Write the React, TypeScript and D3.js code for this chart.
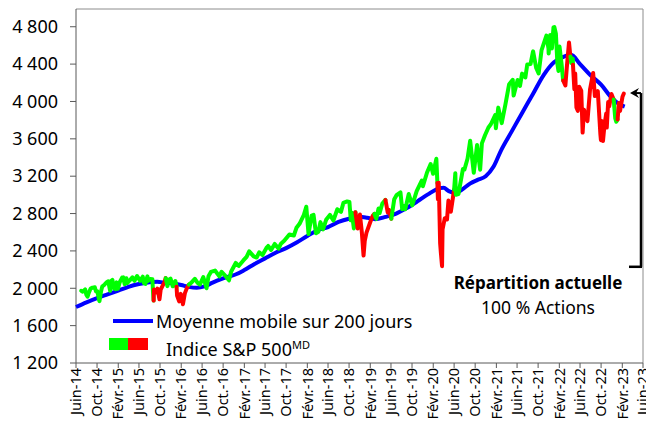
import * as d3 from 'd3';

// S&P 500 close (approx.)
const spxPoints: [string, number][] = [
  ['2014-07-01', 1973], ['2014-07-10', 1964], ['2014-07-24', 1988], ['2014-07-31', 1931],
  ['2014-08-07', 1910], ['2014-08-15', 1955], ['2014-08-25', 1997], ['2014-09-05', 2007],
  ['2014-09-18', 2011], ['2014-09-25', 1966], ['2014-10-03', 1967], ['2014-10-13', 1874],
  ['2014-10-15', 1862], ['2014-10-24', 1964], ['2014-10-31', 2018], ['2014-11-13', 2039],
  ['2014-11-28', 2068], ['2014-12-05', 2075], ['2014-12-16', 1972], ['2014-12-22', 2078],
  ['2014-12-29', 2090], ['2015-01-06', 2003], ['2015-01-15', 1992], ['2015-01-22', 2063],
  ['2015-01-30', 1995], ['2015-02-10', 2068], ['2015-02-24', 2115], ['2015-03-02', 2117],
  ['2015-03-10', 2044], ['2015-03-20', 2108], ['2015-03-26', 2056], ['2015-04-06', 2080],
  ['2015-04-24', 2117], ['2015-05-06', 2080], ['2015-05-21', 2131], ['2015-06-08', 2079],
  ['2015-06-23', 2124], ['2015-06-29', 2058], ['2015-07-08', 2046], ['2015-07-20', 2128],
  ['2015-07-24', 2079], ['2015-08-05', 2100], ['2015-08-18', 2096], ['2015-08-21', 1971],
  ['2015-08-25', 1868], ['2015-08-27', 1988], ['2015-09-03', 1951], ['2015-09-16', 1996],
  ['2015-09-28', 1882], ['2015-10-05', 1987], ['2015-10-15', 2023], ['2015-10-27', 2066],
  ['2015-11-03', 2109], ['2015-11-13', 2023], ['2015-11-20', 2089], ['2015-12-01', 2103],
  ['2015-12-14', 2021], ['2015-12-29', 2078], ['2016-01-05', 2016], ['2016-01-08', 1922],
  ['2016-01-20', 1859], ['2016-01-29', 1940], ['2016-02-11', 1829], ['2016-02-22', 1945],
  ['2016-03-04', 1999], ['2016-03-17', 2040], ['2016-03-31', 2060], ['2016-04-20', 2102],
  ['2016-05-06', 2057], ['2016-05-19', 2040], ['2016-06-08', 2119], ['2016-06-27', 2000],
  ['2016-07-08', 2129], ['2016-07-22', 2175], ['2016-08-15', 2190], ['2016-09-09', 2128],
  ['2016-09-22', 2177], ['2016-10-14', 2132], ['2016-11-04', 2085], ['2016-11-16', 2177],
  ['2016-12-13', 2271], ['2016-12-30', 2239], ['2017-01-26', 2298], ['2017-02-14', 2337],
  ['2017-03-01', 2395], ['2017-03-27', 2341], ['2017-04-13', 2329], ['2017-04-28', 2384],
  ['2017-05-17', 2357], ['2017-06-09', 2432], ['2017-06-19', 2453], ['2017-07-06', 2410],
  ['2017-07-27', 2475], ['2017-08-18', 2425], ['2017-09-01', 2477], ['2017-09-20', 2508],
  ['2017-10-20', 2575], ['2017-11-15', 2565], ['2017-11-30', 2647], ['2017-12-18', 2690],
  ['2018-01-12', 2786], ['2018-01-26', 2873], ['2018-02-08', 2581], ['2018-02-26', 2779],
  ['2018-03-09', 2786], ['2018-03-23', 2588], ['2018-04-06', 2604], ['2018-04-18', 2708],
  ['2018-05-03', 2630], ['2018-05-21', 2733], ['2018-06-12', 2786], ['2018-07-02', 2726],
  ['2018-07-25', 2846], ['2018-08-15', 2818], ['2018-08-29', 2914], ['2018-09-20', 2930],
  ['2018-10-03', 2925], ['2018-10-11', 2728], ['2018-10-17', 2809], ['2018-10-29', 2641],
  ['2018-11-07', 2814], ['2018-11-20', 2641], ['2018-12-03', 2790], ['2018-12-14', 2600],
  ['2018-12-24', 2351], ['2018-12-31', 2507], ['2019-01-10', 2596], ['2019-01-31', 2704],
  ['2019-02-15', 2775], ['2019-02-25', 2796], ['2019-03-08', 2743], ['2019-03-21', 2855],
  ['2019-03-27', 2805], ['2019-04-12', 2907], ['2019-04-30', 2946], ['2019-05-13', 2812],
  ['2019-05-20', 2840], ['2019-06-03', 2744], ['2019-06-20', 2954], ['2019-07-03', 2996],
  ['2019-07-26', 3026], ['2019-08-05', 2845], ['2019-08-12', 2883], ['2019-08-23', 2847],
  ['2019-09-12', 3009], ['2019-10-02', 2888], ['2019-10-28', 3039], ['2019-11-27', 3154],
  ['2019-12-03', 3093], ['2019-12-27', 3240], ['2020-01-17', 3330], ['2020-01-31', 3226],
  ['2020-02-19', 3386], ['2020-02-25', 3128], ['2020-02-28', 2954], ['2020-03-04', 3130],
  ['2020-03-12', 2481], ['2020-03-16', 2386], ['2020-03-23', 2237], ['2020-03-26', 2630],
  ['2020-04-08', 2750], ['2020-04-21', 2737], ['2020-04-29', 2939], ['2020-05-13', 2820],
  ['2020-06-01', 3056], ['2020-06-08', 3232], ['2020-06-11', 3002], ['2020-06-26', 3009],
  ['2020-07-22', 3276], ['2020-07-31', 3271], ['2020-08-18', 3390], ['2020-09-02', 3580],
  ['2020-09-23', 3237], ['2020-10-12', 3535], ['2020-10-30', 3270], ['2020-11-09', 3551],
  ['2020-11-27', 3638], ['2020-12-17', 3722], ['2020-12-31', 3756], ['2021-01-25', 3855],
  ['2021-01-29', 3714], ['2021-02-12', 3934], ['2021-03-04', 3768], ['2021-03-26', 3975],
  ['2021-04-16', 4185], ['2021-05-07', 4232], ['2021-05-12', 4063], ['2021-06-04', 4230],
  ['2021-06-18', 4166], ['2021-06-30', 4298], ['2021-07-19', 4258], ['2021-07-30', 4395],
  ['2021-08-18', 4400], ['2021-08-31', 4523], ['2021-09-02', 4537], ['2021-09-20', 4358],
  ['2021-10-04', 4300], ['2021-10-21', 4550], ['2021-11-18', 4705], ['2021-11-30', 4567],
  ['2021-12-01', 4513], ['2021-12-10', 4712], ['2021-12-20', 4568], ['2021-12-29', 4793],
  ['2022-01-03', 4797], ['2022-01-12', 4726], ['2022-01-21', 4398], ['2022-01-27', 4327],
  ['2022-02-02', 4589], ['2022-02-14', 4401], ['2022-02-23', 4225], ['2022-03-08', 4171],
  ['2022-03-16', 4358], ['2022-03-29', 4632], ['2022-04-06', 4481], ['2022-04-11', 4413],
  ['2022-04-20', 4459], ['2022-04-21', 4394], ['2022-04-29', 4132], ['2022-05-04', 4300],
  ['2022-05-11', 3935], ['2022-05-19', 3900], ['2022-05-27', 4158], ['2022-06-08', 4116],
  ['2022-06-16', 3667], ['2022-06-24', 3912], ['2022-07-05', 3831], ['2022-07-14', 3790],
  ['2022-07-29', 4130], ['2022-08-16', 4305], ['2022-08-26', 4058], ['2022-09-12', 4110],
  ['2022-09-27', 3647], ['2022-09-30', 3586], ['2022-10-04', 3791], ['2022-10-12', 3577],
  ['2022-10-21', 3753], ['2022-10-31', 3872], ['2022-11-03', 3720], ['2022-11-11', 3993],
  ['2022-11-17', 3947], ['2022-11-30', 4080], ['2022-12-13', 4020], ['2022-12-22', 3822],
  ['2022-12-28', 3783], ['2023-01-05', 3808], ['2023-01-12', 3983], ['2023-01-19', 3899],
  ['2023-02-02', 4050], ['2023-02-10', 4085],
];

// 200-day moving average (approx.)
const maPoints: [string, number][] = [
  ['2014-06-01', 1800], ['2014-08-01', 1850], ['2014-10-01', 1895], ['2014-12-01', 1935],
  ['2015-02-01', 1975], ['2015-04-01', 2015], ['2015-06-01', 2045], ['2015-08-01', 2065],
  ['2015-09-15', 2070], ['2015-11-01', 2058], ['2015-12-15', 2052], ['2016-02-01', 2035],
  ['2016-03-15', 2015], ['2016-05-01', 2005], ['2016-06-15', 2020], ['2016-08-01', 2060],
  ['2016-09-15', 2095], ['2016-11-01', 2125], ['2016-12-15', 2150], ['2017-02-01', 2195],
  ['2017-04-01', 2260], ['2017-06-01', 2320], ['2017-08-01', 2380], ['2017-10-01', 2430],
  ['2017-12-01', 2490], ['2018-02-01', 2560], ['2018-04-01', 2620], ['2018-06-01', 2655],
  ['2018-08-01', 2710], ['2018-10-01', 2745], ['2018-12-01', 2765], ['2019-01-15', 2755],
  ['2019-03-01', 2740], ['2019-05-01', 2765], ['2019-07-01', 2800], ['2019-09-01', 2860],
  ['2019-11-01', 2930], ['2020-01-01', 3005], ['2020-02-20', 3060], ['2020-04-01', 3075],
  ['2020-05-01', 3040], ['2020-06-10', 3020], ['2020-07-15', 3055], ['2020-09-01', 3120],
  ['2020-10-15', 3160], ['2020-12-01', 3200], ['2021-01-15', 3300], ['2021-03-01', 3480],
  ['2021-05-01', 3680], ['2021-07-01', 3880], ['2021-09-01', 4080], ['2021-11-01', 4280],
  ['2022-01-01', 4420], ['2022-02-15', 4470], ['2022-04-10', 4500], ['2022-06-01', 4400],
  ['2022-08-01', 4280], ['2022-10-01', 4180], ['2022-12-01', 4040], ['2023-01-15', 3970],
  ['2023-02-15', 3945],
];

// periods shown in red (signal below)
const redPeriods: [string, string][] = [
  ['2015-08-26', '2015-11-03'],
  ['2016-01-04', '2016-03-22'],
  ['2018-11-05', '2019-02-28'],
  ['2019-05-03', '2019-06-07'],
  ['2020-02-25', '2020-06-02'],
  ['2022-02-22', '2022-04-08'],
  ['2022-04-22', '2022-12-13'],
  ['2023-01-03', '2023-02-28'],
];

const yTicks = [1200, 1600, 2000, 2400, 2800, 3200, 3600, 4000, 4400, 4800];
const monthLabels: Record<number, string> = { 1: 'Févr.', 5: 'Juin', 9: 'Oct.' };

const W = 646;
const H = 423;
const FONT = '"Noto Sans", sans-serif';

const parse = d3.timeParse('%Y-%m-%d');

export default function App() {
  const left = 76;
  const right = 643;
  const top = 9;
  const bottom = 363;

  const x = d3
    .scaleTime()
    .domain([parse('2014-06-01')!, parse('2023-06-01')!])
    .range([left, right]);
  const y = d3.scaleLinear().domain([1200, 4990]).range([bottom, top]);

  const spx = spxPoints.map(([d, v]) => ({ date: parse(d)!, value: v }));
  const ma = maPoints.map(([d, v]) => ({ date: parse(d)!, value: v }));
  const periods = redPeriods.map(([a, b]) => [parse(a)!, parse(b)!]);

  const isRed = (t: number) => periods.some(([a, b]) => t >= +a && t <= +b);

  // split the index into colour runs
  const segments: { red: boolean; pts: typeof spx }[] = [];
  for (let i = 1; i < spx.length; i++) {
    const mid = (+spx[i - 1].date + +spx[i].date) / 2;
    const red = isRed(mid);
    const last = segments[segments.length - 1];
    if (last && last.red === red) {
      last.pts.push(spx[i]);
    } else {
      segments.push({ red, pts: [spx[i - 1], spx[i]] });
    }
  }

  const line = d3
    .line<{ date: Date; value: number }>()
    .x((d) => x(d.date))
    .y((d) => y(d.value));

  const maLine = d3
    .line<{ date: Date; value: number }>()
    .x((d) => x(d.date))
    .y((d) => y(d.value))
    .curve(d3.curveMonotoneX);

  const xTicks = d3.timeMonth.range(parse('2014-06-01')!, parse('2023-06-02')!, 4);
  const fmtTick = (d: Date) =>
    `${monthLabels[d.getMonth()]}-${String(d.getFullYear() % 100).padStart(2, '0')}`;

  const arrowTop = y(4090);
  const arrowBottom = y(2230);

  return (
    <svg
      width={W}
      height={H}
      style={{ position: 'absolute', left: 0, top: 0, background: '#fff' }}
      fontFamily={FONT}
    >
      {/* frame */}
      <line x1={left} x2={right} y1={top} y2={top} stroke="#8c8c8c" strokeWidth={1} />
      <line x1={right} x2={right} y1={top} y2={bottom} stroke="#8c8c8c" strokeWidth={1} />
      <line x1={left} x2={left} y1={top} y2={bottom} stroke="#595959" strokeWidth={1} />
      <line x1={left} x2={right} y1={bottom} y2={bottom} stroke="#595959" strokeWidth={1} />

      {/* y axis */}
      {yTicks.map((t) => (
        <g key={t}>
          <line x1={left - 6} x2={left} y1={y(t)} y2={y(t)} stroke="#595959" />
          <text x={58} y={y(t)} dy="0.35em" textAnchor="end" fontSize={18} fill="#000">
            {d3.format(',')(t).replace(',', ' ')}
          </text>
        </g>
      ))}

      {/* x axis */}
      {xTicks.map((t) => (
        <g key={+t}>
          <line x1={x(t)} x2={x(t)} y1={bottom} y2={bottom + 5} stroke="#595959" />
          <text
            transform={`translate(${x(t)},${bottom + 5}) rotate(-90)`}
            dy="0.36em"
            textAnchor="end"
            fontSize={14.5}
            fill="#000"
          >
            {fmtTick(t)}
          </text>
        </g>
      ))}

      {/* moving average */}
      <path d={maLine(ma)!} fill="none" stroke="#0000ff" strokeWidth={4} strokeLinejoin="round" />

      {/* index */}
      {segments.map((s, i) => (
        <path
          key={i}
          d={line(s.pts)!}
          fill="none"
          stroke={s.red ? '#ff0000' : '#00ff00'}
          strokeWidth={4}
          strokeLinejoin="round"
          strokeLinecap="round"
        />
      ))}

      {/* legend */}
      <line x1={113} x2={153} y1={321} y2={321} stroke="#0000ff" strokeWidth={4} />
      <text x={156} y={328} fontSize={18} fill="#000">
        Moyenne mobile sur 200 jours
      </text>
      <rect x={109} y={338} width={19} height={12} fill="#00ff00" />
      <rect x={128} y={338} width={20} height={12} fill="#ff0000" />
      <text x={166} y={356} fontSize={18} fill="#000">
        Indice S&amp;P 500
        <tspan fontSize={11} dy={-7}>MD</tspan>
      </text>

      {/* current allocation bracket */}
      <line x1={641} x2={641} y1={arrowTop} y2={arrowBottom} stroke="#000" strokeWidth={2.5} />
      <line x1={629} x2={642} y1={arrowBottom} y2={arrowBottom} stroke="#000" strokeWidth={2.5} />
      <line x1={634} x2={641} y1={arrowTop} y2={arrowTop} stroke="#000" strokeWidth={2} />
      <path
        d={`M${630},${arrowTop} L${639},${arrowTop - 5} L${636},${arrowTop} L${639},${arrowTop + 5} Z`}
        fill="#000"
      />
      <text x={538} y={289} textAnchor="middle" fontSize={17} fontWeight="bold" fill="#000">
        Répartition actuelle
      </text>
      <text x={538} y={314} textAnchor="middle" fontSize={17.5} fill="#000">
        100 % Actions
      </text>
    </svg>
  );
}
